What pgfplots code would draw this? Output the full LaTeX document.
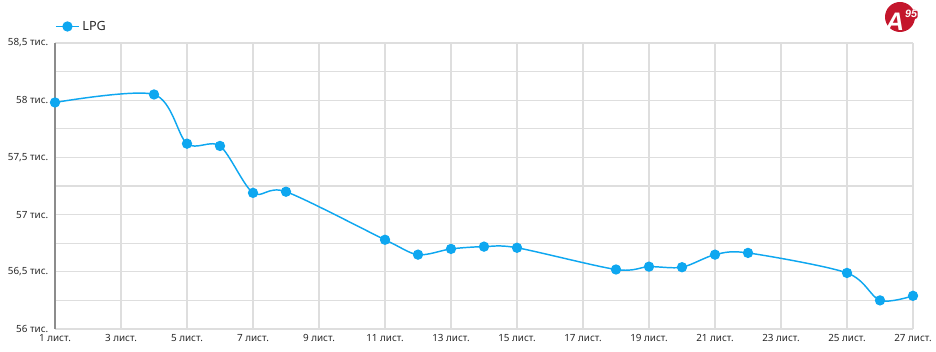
\documentclass[border=0pt]{standalone}
\usepackage{fontspec}
\setmainfont{Noto Sans}
\newfontfamily\logofont{Liberation Sans}
\usepackage{pgfplots}
\pgfplotsset{compat=1.18}
\definecolor{lpg}{RGB}{14,167,240}
\definecolor{gridc}{RGB}{222,222,222}
\definecolor{axc}{RGB}{140,140,140}
\definecolor{logored}{RGB}{196,22,44}
\definecolor{txt}{RGB}{40,40,40}
\pgfplotstableread{
x y
1 57.98
4 58.05
5 57.62
6 57.60
7 57.19
8 57.20
11 56.78
12 56.65
13 56.70
14 56.72
15 56.71
18 56.52
19 56.545
20 56.54
21 56.65
22 56.665
25 56.49
26 56.25
27 56.29
}\lpgdata
\begin{document}
\begin{tikzpicture}[font=\fontsize{7.4pt}{9pt}\selectfont, text=txt]
\path[use as bounding box] (-41.25pt,-17.25pt) rectangle (660.75pt,246.75pt);
\begin{axis}[
  at={(0pt,0pt)}, anchor=south west,
  scale only axis, width=643.5pt, height=214.5pt,
  xmin=1, xmax=27, ymin=56, ymax=58.5,
  xtick={1,3,...,27},
  xticklabels={1 лист.,3 лист.,5 лист.,7 лист.,9 лист.,11 лист.,13 лист.,15 лист.,17 лист.,19 лист.,21 лист.,23 лист.,25 лист.,27 лист.},
  ytick={56,56.5,57,57.5,58,58.5},
  yticklabels={56 тис.,{56,5 тис.},57 тис.,{57,5 тис.},58 тис.,{58,5 тис.}},
  minor ytick={56.25,56.75,57.25,57.75,58.25},
  grid=both,
  major grid style={gridc, line width=0.8pt},
  minor grid style={gridc, line width=0.8pt},
  major tick length=0pt, minor tick length=0pt,
  axis x line*=bottom, axis y line*=left,
  x axis line style={gridc, line width=0.8pt, -},
  y axis line style={axc, line width=1pt, -},
  xticklabel style={text=txt, yshift=-0.5pt},
  yticklabel style={text=txt, xshift=-1.5pt},
  legend style={at={(0,1)}, anchor=south west, draw=none, fill=none,
    yshift=6pt, inner xsep=0pt, inner ysep=0pt,
    font=\fontsize{9.5pt}{11pt}\selectfont},
  legend cell align=left,
  legend image code/.code={
    \draw[#1, mark repeat=2, mark phase=2] plot coordinates {(0pt,0pt) (8.6pt,0pt) (17.25pt,0pt)};
  },
]
\addplot[lpg, line width=1.1pt, smooth, tension=0.5, mark=*, mark size=3.3pt,
  mark options={fill=lpg, draw=lpg}] table[x=x,y=y] {\lpgdata};
\addlegendentry{LPG}
\end{axis}
\fill[logored] (633.75pt,234pt) circle (11.25pt);
\node[white, font=\logofont\fontsize{19pt}{19pt}\selectfont\bfseries\itshape, inner sep=0pt] at (630pt,230.5pt) {A};
\node[white, fill=logored, rounded corners=2pt, font=\logofont\fontsize{8pt}{8pt}\selectfont\bfseries\itshape, inner sep=0.6pt] at (642pt,236pt) {95};
\end{tikzpicture}
\end{document}
